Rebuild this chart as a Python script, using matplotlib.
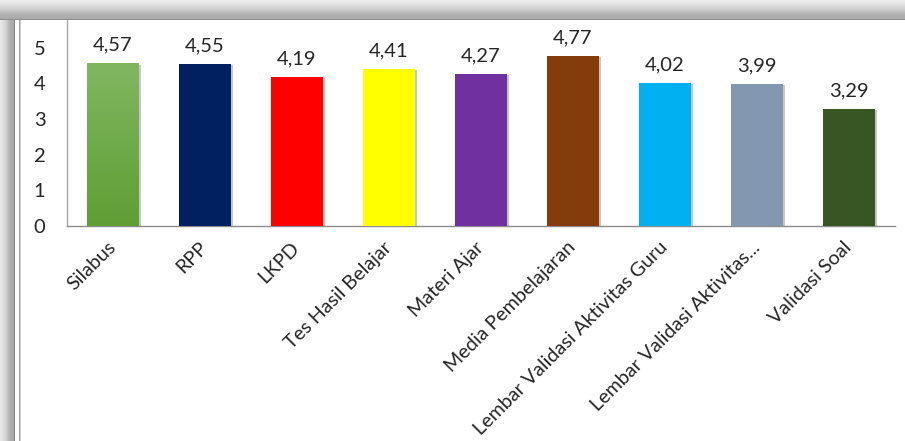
import numpy as np
import matplotlib
matplotlib.use("Agg")
import matplotlib.pyplot as plt
from matplotlib import patheffects as pe
from matplotlib.colors import LinearSegmentedColormap

categories = ["Silabus", "RPP", "LKPD", "Tes Hasil Belajar", "Materi Ajar",
              "Media Pembelajaran", "Lembar Validasi Aktivitas Guru",
              "Lembar Validasi Aktivitas...", "Validasi Soal"]
values = [4.57, 4.55, 4.19, 4.41, 4.27, 4.77, 4.02, 3.99, 3.29]
bar_colors = ["#6aa83f", "#002060", "#ff0000", "#ffff00", "#7030a0",
              "#843c0c", "#00b0f0", "#8497b0", "#375623"]
yticks = [0, 1, 2, 3, 4, 5]

plt.rcParams['font.family'] = ['Lato', 'DejaVu Sans']

W, H = 905, 441
fig = plt.figure(figsize=(W / 100, H / 100), dpi=100)

# shadowed border frame, drawn as a pixel-exact figure image
top_levels = [0.93, 0.92, 0.91, 0.90, 0.88, 0.87, 0.85, 0.84, 0.82, 0.80,
              0.78, 0.76, 0.73, 0.71, 0.70, 0.69, 0.69, 0.68, 0.66, 0.56]
left_levels = [0.91, 0.90, 0.88, 0.87, 0.85, 0.83, 0.81, 0.77, 0.73, 0.71,
               0.69, 0.68, 0.67, 0.66, 0.52, 1, 1, 1, 1, 0.64, 0.80]
nt, nl = len(top_levels), len(left_levels)
top_img = np.repeat(np.array(top_levels)[:, None], W, axis=1)
top_rgb = np.dstack([top_img] * 3)
left_img = np.repeat(np.array(left_levels)[None, :], H - nt, axis=0)
left_rgb = np.dstack([left_img] * 3)
fig.figimage(top_rgb, xo=0, yo=H - nt, origin='upper', zorder=0)
fig.figimage(left_rgb, xo=0, yo=0, origin='upper', zorder=0)

ax = fig.add_axes([67 / W, 1 - 226 / H, (895 - 67) / W, (226 - 20) / H])
ax.set_facecolor('none')
x = np.arange(len(categories))
bars = ax.bar(x, values, width=0.565, color=bar_colors, zorder=3)
shadow = [pe.SimplePatchShadow(offset=(1.5, -1.0), shadow_rgbFace='#000000', alpha=0.22), pe.Normal()]
for b in bars:
    b.set_path_effects(shadow)

# gradient for first bar
b0 = bars[0]
grad = np.linspace(0, 1, 100).reshape(-1, 1)
cmap = LinearSegmentedColormap.from_list('g', ['#5f9f35', '#80b660'])
x0, y0 = b0.get_x(), b0.get_y()
im = ax.imshow(grad, cmap=cmap, origin='lower', aspect='auto',
               extent=[x0, x0 + b0.get_width(), y0, y0 + b0.get_height()], zorder=4)
im.set_clip_path(b0)

for xi, v in zip(x, values):
    ax.annotate(f"{v:.2f}".replace('.', ','), (xi, v), xytext=(0, 7),
                textcoords='offset points', ha='center', va='bottom',
                fontsize=14.5, color='#262626')

ax.set_xlim(-0.5, len(categories) - 0.5)
ax.set_ylim(0, 5.78)
ax.set_yticks(yticks)
ax.set_yticklabels([str(t) for t in yticks], fontsize=14.5, color='#262626')
ax.set_xticks(x)
ax.set_xticklabels(categories, rotation=45, ha='right', va='center',
                   rotation_mode='anchor', fontsize=14.2, color='#262626')
ax.tick_params(length=0, axis='both')
ax.tick_params(axis='y', pad=15.5)
ax.tick_params(axis='x', pad=13.5)
for s in ['top', 'right']:
    ax.spines[s].set_visible(False)
ax.spines['left'].set_color('#a6a6a6')
ax.spines['bottom'].set_color('#8c8c8c')
ax.spines['left'].set_linewidth(1.0)
ax.spines['bottom'].set_linewidth(1.0)

fig.savefig('out.png', dpi=100)
